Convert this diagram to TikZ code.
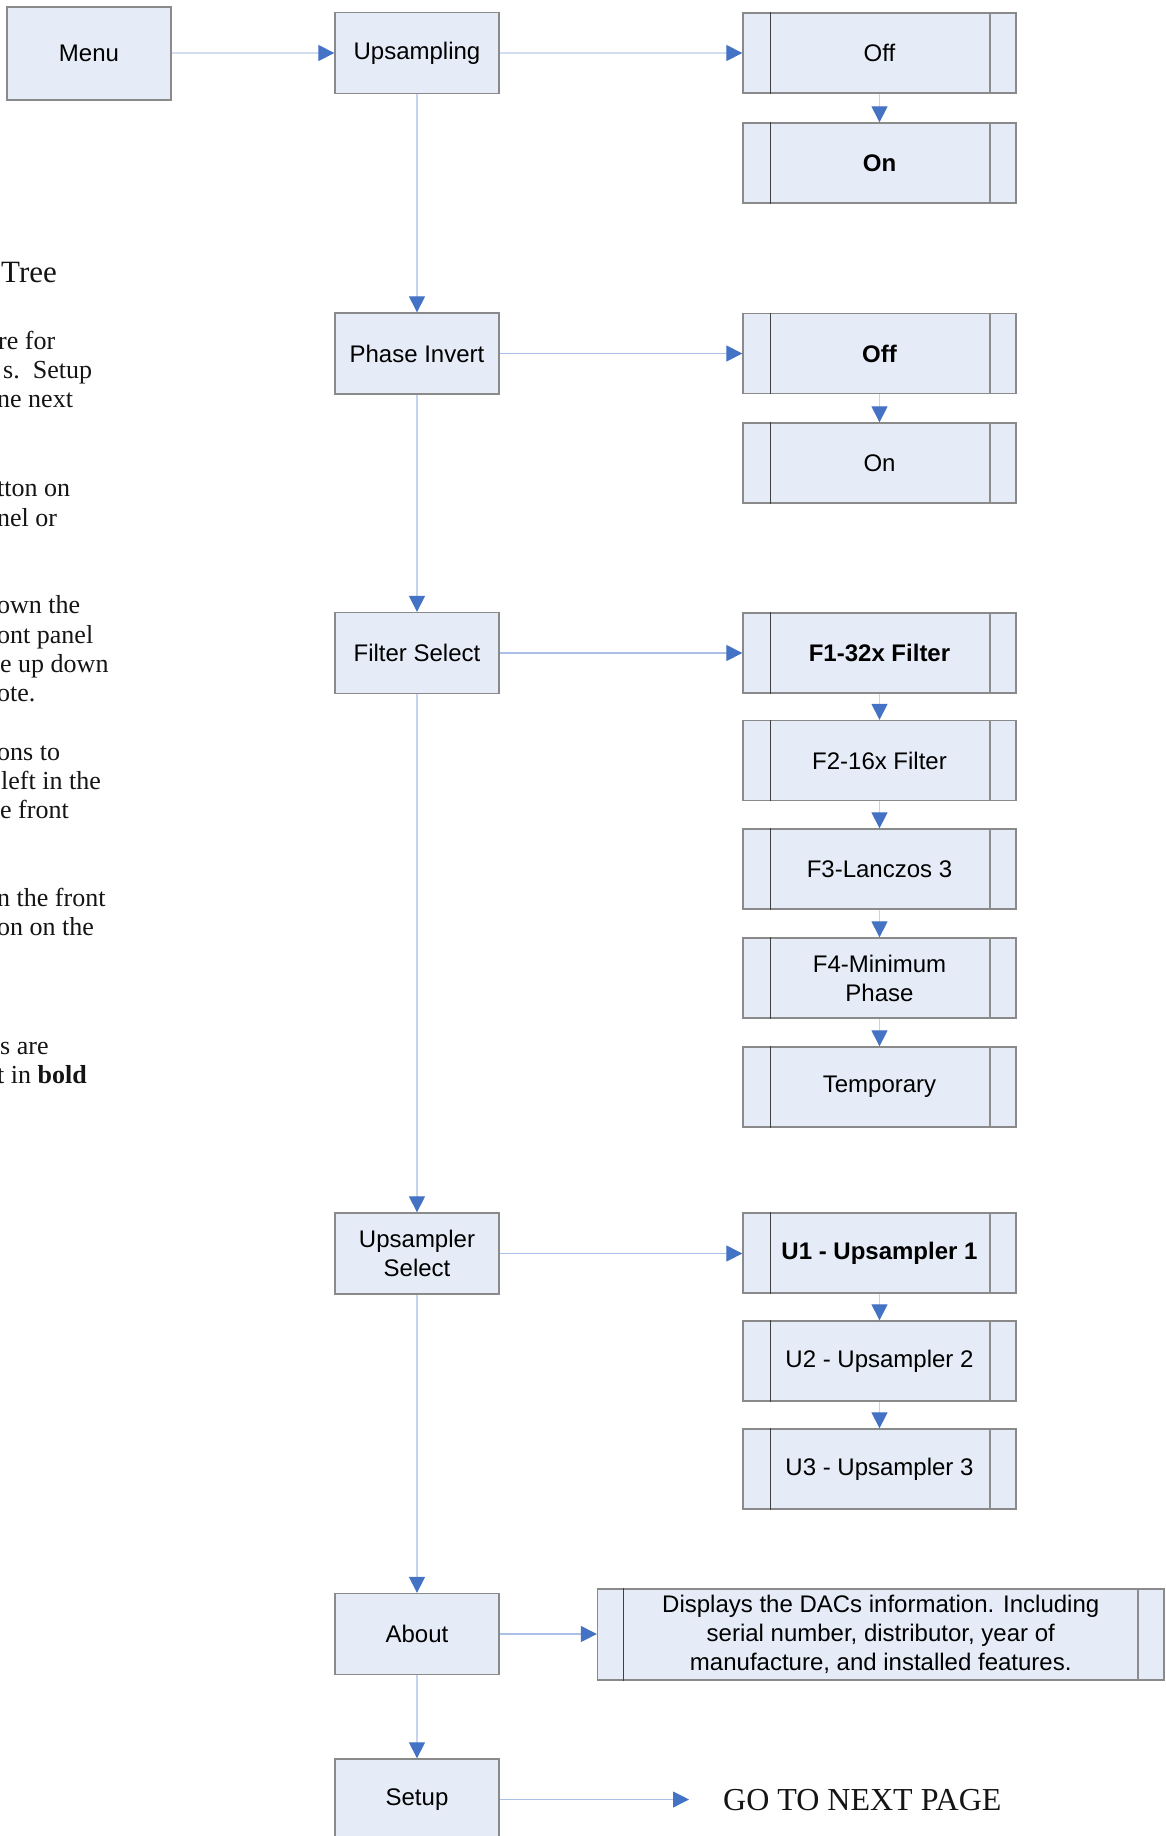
\documentclass[tikz,border=0pt]{standalone}
\usepackage{fontspec}
\setmainfont{Liberation Serif}
\newfontfamily\sansfnt{Liberation Sans}
\usetikzlibrary{arrows.meta}
\definecolor{boxfill}{RGB}{230,236,247}
\definecolor{boxline}{RGB}{138,138,138}
\definecolor{innerdark}{RGB}{64,64,64}
\definecolor{innergray}{RGB}{140,140,140}
\definecolor{connline}{RGB}{170,192,230}
\definecolor{connvert}{RGB}{196,212,238}
\definecolor{connlight}{RGB}{208,220,240}
\definecolor{tipblue}{RGB}{68,114,196}
\definecolor{txtcol}{RGB}{20,20,20}
\newcommand\dlab{\sansfnt\fontsize{24}{29}\selectfont}
\newcommand\dtxt{\fontsize{26}{29.3}\selectfont}
\begin{document}
\begin{tikzpicture}[x=1pt,y=-1pt,
  proc/.style={draw=boxline, fill=boxfill, line width=1.3pt, minimum width=164pt,
    minimum height=81pt, inner sep=0pt, align=center, font=\dlab},
  sub/.style={proc, minimum width=273pt, minimum height=80pt},
  conn/.style={draw=connline, line width=1.1pt,
    -{Triangle[length=16pt,width=16pt,fill=tipblue,color=tipblue]}},
  lconn/.style={conn, draw=connlight},
  vconn/.style={conn, draw=connvert},
  side/.style={anchor=base west, inner sep=0pt, font=\dtxt, text=txtcol},
]
\useasboundingbox (0,0) rectangle (1165,1836);
\clip (0,0) rectangle (1165,1836);

% left column
\node[proc, minimum height=93pt] (menu) at (89,53.5) {Menu};
\node[proc] (ups) at (417,53) {Upsampling};
\node[proc] (ph) at (417,353.5) {Phase Invert};
\node[proc] (fs) at (417,653) {Filter Select};
\node[proc] (us) at (417,1253.5) {Upsampler\\Select};
\node[proc] (about) at (417,1634) {About};
\node[proc] (setup) at (417,1799.5) {Setup};

% right column
\node[sub] (off1) at (879.5,53) {Off};
\node[sub] (on1) at (879.5,163) {\bfseries On};
\node[sub] (off2) at (879.5,353.5) {\bfseries Off};
\node[sub] (on2) at (879.5,463) {On};
\node[sub] (f1) at (879.5,653) {\bfseries F1-32x Filter};
\node[sub] (f2) at (879.5,760.5) {F2-16x Filter};
\node[sub] (f3) at (879.5,869) {F3-Lanczos 3};
\node[sub] (f4) at (879.5,978) {F4-Minimum\\Phase};
\node[sub] (f5) at (879.5,1087) {Temporary};
\node[sub] (u1) at (879.5,1253) {\bfseries U1 - Upsampler 1};
\node[sub] (u2) at (879.5,1361) {U2 - Upsampler 2};
\node[sub] (u3) at (879.5,1469) {U3 - Upsampler 3};
\node[sub, minimum width=566.5pt, minimum height=91pt] (disp) at (880.75,1634.5)
  {Displays the DACs information. Including\\serial number, distributor, year of\\manufacture, and installed features.};

\foreach \n in {off1,on1,off2,on2,f1,f2,f3,f4,f5,u1,u2,u3} {
  \draw[innerdark, line width=1.2pt] ([xshift=28pt]\n.north west) -- ([xshift=28pt]\n.south west);
  \draw[innergray, line width=2pt] ([xshift=-27pt]\n.north east) -- ([xshift=-27pt]\n.south east);
}
\draw[innerdark, line width=1.2pt] ([xshift=27pt]disp.north west) -- ([xshift=27pt]disp.south west);
\draw[innergray, line width=2pt] ([xshift=-27pt]disp.north east) -- ([xshift=-27pt]disp.south east);

% go to next page
\node[anchor=base west, inner sep=0pt, font=\fontsize{32}{36}\selectfont, text=txtcol] (go) at (723,1810) {GO TO NEXT PAGE};

% connectors
\draw[lconn] (menu.east |- ups.west) -- (ups.west);
\draw[lconn] (ups.east) -- (ups.east -| off1.west);
\draw[conn] (ph.east) -- (ph.east -| off2.west);
\draw[conn] (fs.east) -- (fs.east -| f1.west);
\draw[conn] (us.east) -- (us.east -| u1.west);
\draw[conn] (about.east) -- (about.east -| disp.west);
\draw[conn, shorten >=34pt] (setup.east) -- (setup.east -| go.west);

\draw[vconn] (ups) -- (ph);
\draw[vconn] (ph) -- (fs);
\draw[vconn] (fs) -- (us);
\draw[vconn] (us) -- (about);
\draw[vconn] (about) -- (setup);

\draw[vconn] (off1) -- (on1);
\draw[vconn] (off2) -- (on2);
\draw[vconn] (f1) -- (f2);
\draw[vconn] (f2) -- (f3);
\draw[vconn] (f3) -- (f4);
\draw[vconn] (f4) -- (f5);
\draw[vconn] (u1) -- (u2);
\draw[vconn] (u2) -- (u3);

% clipped side text
\node[side, font=\fontsize{31}{34}\selectfont] (title) at (1,282.5) {Tree};
\node[side] (t1) at (-2,349) {re for};
\node[side] (t2) at (3,378) {s.\ \ Setup};
\node[side] (t3) at (-3,407) {ne next};
\node[side] (t4) at (-3,496) {tton on};
\node[side] (t5) at (-3,526) {nel or};
\node[side] (t6) at (-3,613.5) {own the};
\node[side] (t7) at (-3,643) {ont panel};
\node[side] (t8) at (0,672) {e up down};
\node[side] (t9) at (-3,701) {ote.};
\node[side] (t10) at (-3,760) {ons to};
\node[side] (t11) at (1,789) {left in the};
\node[side] (t12) at (0,818.5) {e front};
\node[side] (t13) at (-3,906) {n the front};
\node[side] (t14) at (-3,935.5) {on on the};
\node[side] (t15) at (0,1054) {s are};
\node[side] (t16) at (-3,1083) {t in \textbf{bold}};
\end{tikzpicture}
\end{document}
